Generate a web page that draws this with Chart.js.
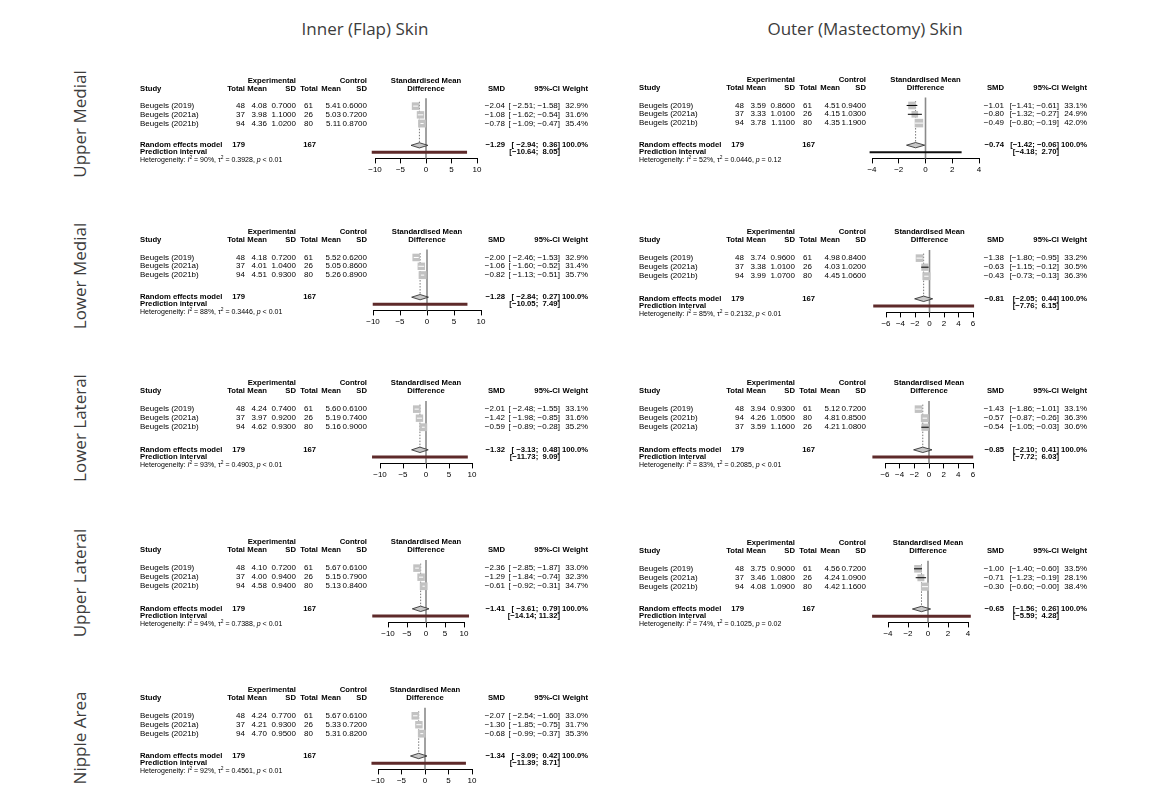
<!DOCTYPE html>
<html><head><meta charset="utf-8">
<script src="https://cdn.jsdelivr.net/npm/chart.js@4.4.0/dist/chart.umd.min.js"></script>
<style>
html,body{margin:0;padding:0;background:#fff;}
#wrap{position:relative;width:1172px;height:800px;overflow:hidden;background:#fff;}
.title{position:absolute;font-family:'Open Sans',sans-serif;font-size:17px;color:#3c3c3c;white-space:nowrap;transform:translate(-50%,-50%);}
.side{position:absolute;font-family:'Open Sans',sans-serif;font-size:17px;color:#3c3c3c;white-space:nowrap;transform:translate(-50%,-50%) rotate(-90deg);}
canvas{position:absolute;}
</style></head><body><div id="wrap"></div>
<script>
// ---------------- DATA ----------------
const skinTitles = ['Inner (Flap) Skin', 'Outer (Mastectomy) Skin'];
const regionLabels = ['Upper Medial', 'Lower Medial', 'Lower Lateral', 'Upper Lateral', 'Nipple Area'];

const studyNames = ['Beugels (2019)', 'Beugels (2021a)', 'Beugels (2021b)'];
const expTotal = [48, 37, 94];
const ctlTotal = [61, 26, 80];
const studyNamesOLL = ['Beugels (2019)', 'Beugels (2021b)', 'Beugels (2021a)'];
const expTotalOLL = [48, 94, 37];
const ctlTotalOLL = [61, 80, 26];
const pooledWeight = 100.0;

// Inner (Flap) Skin - Upper Medial
const iumExpMean = [4.08, 3.98, 4.36], iumExpSD = [0.70, 1.10, 1.02];
const iumCtlMean = [5.41, 5.03, 5.11], iumCtlSD = [0.60, 0.72, 0.87];
const iumSMD = [-2.04, -1.08, -0.78], iumLo = [-2.51, -1.62, -1.09], iumHi = [-1.58, -0.54, -0.47];
const iumWeight = [32.9, 31.6, 35.4];
const iumPooled = [-1.29, -2.94, 0.36], iumPredict = [-10.64, 8.05], iumHet = [90, 0.3928, '< 0.01'];

// Inner (Flap) Skin - Lower Medial
const ilmExpMean = [4.18, 4.01, 4.51], ilmExpSD = [0.72, 1.04, 0.93];
const ilmCtlMean = [5.52, 5.05, 5.26], ilmCtlSD = [0.62, 0.86, 0.89];
const ilmSMD = [-2.00, -1.06, -0.82], ilmLo = [-2.46, -1.60, -1.13], ilmHi = [-1.53, -0.52, -0.51];
const ilmWeight = [32.9, 31.4, 35.7];
const ilmPooled = [-1.28, -2.84, 0.27], ilmPredict = [-10.05, 7.49], ilmHet = [88, 0.3446, '< 0.01'];

// Inner (Flap) Skin - Lower Lateral
const illExpMean = [4.24, 3.97, 4.62], illExpSD = [0.74, 0.92, 0.93];
const illCtlMean = [5.60, 5.19, 5.16], illCtlSD = [0.61, 0.74, 0.90];
const illSMD = [-2.01, -1.42, -0.59], illLo = [-2.48, -1.98, -0.89], illHi = [-1.55, -0.85, -0.28];
const illWeight = [33.1, 31.6, 35.2];
const illPooled = [-1.32, -3.13, 0.48], illPredict = [-11.73, 9.09], illHet = [93, 0.4903, '< 0.01'];

// Inner (Flap) Skin - Upper Lateral
const iulExpMean = [4.10, 4.00, 4.58], iulExpSD = [0.72, 0.94, 0.94];
const iulCtlMean = [5.67, 5.15, 5.13], iulCtlSD = [0.61, 0.79, 0.84];
const iulSMD = [-2.36, -1.29, -0.61], iulLo = [-2.85, -1.84, -0.92], iulHi = [-1.87, -0.74, -0.31];
const iulWeight = [33.0, 32.3, 34.7];
const iulPooled = [-1.41, -3.61, 0.79], iulPredict = [-14.14, 11.32], iulHet = [94, 0.7388, '< 0.01'];

// Inner (Flap) Skin - Nipple Area
const inaExpMean = [4.24, 4.21, 4.70], inaExpSD = [0.77, 0.93, 0.95];
const inaCtlMean = [5.67, 5.33, 5.31], inaCtlSD = [0.61, 0.72, 0.82];
const inaSMD = [-2.07, -1.30, -0.68], inaLo = [-2.54, -1.85, -0.99], inaHi = [-1.60, -0.75, -0.37];
const inaWeight = [33.0, 31.7, 35.3];
const inaPooled = [-1.34, -3.09, 0.42], inaPredict = [-11.39, 8.71], inaHet = [92, 0.4561, '< 0.01'];

// Outer (Mastectomy) Skin - Upper Medial
const oumExpMean = [3.59, 3.33, 3.78], oumExpSD = [0.86, 1.01, 1.11];
const oumCtlMean = [4.51, 4.15, 4.35], oumCtlSD = [0.94, 1.03, 1.19];
const oumSMD = [-1.01, -0.80, -0.49], oumLo = [-1.41, -1.32, -0.80], oumHi = [-0.61, -0.27, -0.19];
const oumWeight = [33.1, 24.9, 42.0];
const oumPooled = [-0.74, -1.42, -0.06], oumPredict = [-4.18, 2.70], oumHet = [52, 0.0446, '= 0.12'];

// Outer (Mastectomy) Skin - Lower Medial
const olmExpMean = [3.74, 3.38, 3.99], olmExpSD = [0.96, 1.01, 1.07];
const olmCtlMean = [4.98, 4.03, 4.45], olmCtlSD = [0.84, 1.02, 1.06];
const olmSMD = [-1.38, -0.63, -0.43], olmLo = [-1.80, -1.15, -0.73], olmHi = [-0.95, -0.12, -0.13];
const olmWeight = [33.2, 30.5, 36.3];
const olmPooled = [-0.81, -2.05, 0.44], olmPredict = [-7.76, 6.15], olmHet = [85, 0.2132, '< 0.01'];

// Outer (Mastectomy) Skin - Lower Lateral
const ollExpMean = [3.94, 4.26, 3.59], ollExpSD = [0.93, 1.05, 1.16];
const ollCtlMean = [5.12, 4.81, 4.21], ollCtlSD = [0.72, 0.85, 1.08];
const ollSMD = [-1.43, -0.57, -0.54], ollLo = [-1.86, -0.87, -1.05], ollHi = [-1.01, -0.26, -0.03];
const ollWeight = [33.1, 36.3, 30.6];
const ollPooled = [-0.85, -2.10, 0.41], ollPredict = [-7.72, 6.03], ollHet = [83, 0.2085, '< 0.01'];

// Outer (Mastectomy) Skin - Upper Lateral
const oulExpMean = [3.75, 3.46, 4.08], oulExpSD = [0.90, 1.08, 1.09];
const oulCtlMean = [4.56, 4.24, 4.42], oulCtlSD = [0.72, 1.09, 1.16];
const oulSMD = [-1.00, -0.71, -0.30], oulLo = [-1.40, -1.23, -0.60], oulHi = [-0.60, -0.19, -0.004];
const oulWeight = [33.5, 28.1, 38.4];
const oulPooled = [-0.65, -1.56, 0.26], oulPredict = [-5.59, 4.28], oulHet = [74, 0.1025, '= 0.02'];

// x-axis tick ranges (min, max, step)
const innerTicks = [-10, 10, 5];
const oumTicks = [-4, 4, 2], olmTicks = [-6, 6, 2], ollTicks = [-6, 6, 2], oulTicks = [-4, 4, 2];

// ---------------- LAYOUT / STYLE ----------------
const FONT = '"Liberation Sans", Arial, Helvetica, sans-serif';
const F_REG = 8, F_BOLD = 7.7, F_HET = 7;
const COL = {study: 10, expN: 115, expMean: 137, expSD: 166, ctlN: 183, ctlNHead: 188, ctlNPool: 186, ctlMean: 211, ctlSD: 237, smd: 375, ci: 430, weight: 458};
const ROW = {h0: 0.1, h1: 1, studies: [3, 4, 5], re: 7.5, pi: 8.3, het: 9.2, zeroTop: 2.1, diaHalf: 0.3, axis: 9};
const PANEL_W = 470;

function mkData(names, eN, eM, eS, cN, cM, cS, smd, lo, hi, w, pooled, pred, het, ticks) {
  return {names, eN, eM, eS, cN, cM, cS, smd, lo, hi, w, pooled, pred, het, ticks};
}
const panels = [
  {geo: {left: 130, header: 80, axis: 158, px0: 375, px1: 477}, predColor: '#5e2a2a', predW: 3,
   d: mkData(studyNames, expTotal, iumExpMean, iumExpSD, ctlTotal, iumCtlMean, iumCtlSD, iumSMD, iumLo, iumHi, iumWeight, iumPooled, iumPredict, iumHet, innerTicks)},
  {geo: {left: 130, header: 231, axis: 310, px0: 373, px1: 481}, predColor: '#5e2a2a', predW: 3,
   d: mkData(studyNames, expTotal, ilmExpMean, ilmExpSD, ctlTotal, ilmCtlMean, ilmCtlSD, ilmSMD, ilmLo, ilmHi, ilmWeight, ilmPooled, ilmPredict, ilmHet, innerTicks)},
  {geo: {left: 130, header: 382, axis: 463, px0: 380, px1: 472}, predColor: '#5e2a2a', predW: 3,
   d: mkData(studyNames, expTotal, illExpMean, illExpSD, ctlTotal, illCtlMean, illCtlSD, illSMD, illLo, illHi, illWeight, illPooled, illPredict, illHet, innerTicks)},
  {geo: {left: 130, header: 541, axis: 622, px0: 388, px1: 464}, predColor: '#5e2a2a', predW: 3,
   d: mkData(studyNames, expTotal, iulExpMean, iulExpSD, ctlTotal, iulCtlMean, iulCtlSD, iulSMD, iulLo, iulHi, iulWeight, iulPooled, iulPredict, iulHet, innerTicks)},
  {geo: {left: 130, header: 689, axis: 769, px0: 378, px1: 472}, predColor: '#5e2a2a', predW: 3,
   d: mkData(studyNames, expTotal, inaExpMean, inaExpSD, ctlTotal, inaCtlMean, inaCtlSD, inaSMD, inaLo, inaHi, inaWeight, inaPooled, inaPredict, inaHet, innerTicks)},
  {geo: {left: 629, header: 79, axis: 158, px0: 872, px1: 979}, predColor: '#111111', predW: 2,
   d: mkData(studyNames, expTotal, oumExpMean, oumExpSD, ctlTotal, oumCtlMean, oumCtlSD, oumSMD, oumLo, oumHi, oumWeight, oumPooled, oumPredict, oumHet, oumTicks)},
  {geo: {left: 629, header: 231, axis: 312, px0: 886, px1: 973}, predColor: '#5e2a2a', predW: 3,
   d: mkData(studyNames, expTotal, olmExpMean, olmExpSD, ctlTotal, olmCtlMean, olmCtlSD, olmSMD, olmLo, olmHi, olmWeight, olmPooled, olmPredict, olmHet, olmTicks)},
  {geo: {left: 629, header: 382, axis: 463, px0: 885, px1: 973}, predColor: '#5e2a2a', predW: 3,
   d: mkData(studyNamesOLL, expTotalOLL, ollExpMean, ollExpSD, ctlTotalOLL, ollCtlMean, ollCtlSD, ollSMD, ollLo, ollHi, ollWeight, ollPooled, ollPredict, ollHet, ollTicks)},
  {geo: {left: 629, header: 542, axis: 622, px0: 888, px1: 968}, predColor: '#5e2a2a', predW: 3,
   d: mkData(studyNames, expTotal, oulExpMean, oulExpSD, ctlTotal, oulCtlMean, oulCtlSD, oulSMD, oulLo, oulHi, oulWeight, oulPooled, oulPredict, oulHet, oulTicks)}
];

// ---------------- HELPERS ----------------
const MINUS = '\u2212';
const fnum = (v, dp) => (v < 0 ? MINUS : '') + Math.abs(v).toFixed(dp);
const sideFor = w => 7.8 * Math.sqrt(w / 35);

const wrap = document.getElementById('wrap');
skinTitles.forEach((t, i) => {
  const el = document.createElement('div'); el.className = 'title'; el.textContent = t;
  el.style.left = (i === 0 ? 365 : 865) + 'px'; el.style.top = '28px'; wrap.appendChild(el);
});
const sideY = [124, 276, 428, 583, 738];
regionLabels.forEach((t, i) => {
  const el = document.createElement('div'); el.className = 'side'; el.textContent = t;
  el.style.left = '79px'; el.style.top = sideY[i] + 'px'; wrap.appendChild(el);
});

function richText(ctx, x, y, parts, size) {
  let cx = x;
  parts.forEach(p => {
    let f = size, dy = 0, st = '';
    if (p.s === 'i') st = 'italic ';
    if (p.s === 'sup') { f = size * 0.7; dy = -size * 0.35; }
    ctx.font = st + f + 'px ' + FONT;
    ctx.fillText(p.t, cx, y + dy);
    cx += ctx.measureText(p.t).width;
  });
}

function makePlugin(panel) {
  const d = panel.d;
  return {
    id: 'forestText',
    afterDatasetsDraw(chart) {
      const ctx = chart.ctx, xs = chart.scales.x, ys = chart.scales.y;
      // diamond (random effects)
      const yc = ys.getPixelForValue(ROW.re);
      const hh = Math.abs(ys.getPixelForValue(ROW.re + ROW.diaHalf) - yc);
      ctx.save();
      ctx.beginPath();
      ctx.moveTo(xs.getPixelForValue(d.pooled[1]), yc);
      ctx.lineTo(xs.getPixelForValue(d.pooled[0]), yc - hh);
      ctx.lineTo(xs.getPixelForValue(d.pooled[2]), yc);
      ctx.lineTo(xs.getPixelForValue(d.pooled[0]), yc + hh);
      ctx.closePath();
      ctx.fillStyle = '#c8c8c8'; ctx.fill();
      ctx.lineWidth = 0.8; ctx.strokeStyle = '#222'; ctx.stroke();
      ctx.restore();
    },
    afterDraw(chart) {
      const ctx = chart.ctx, ys = chart.scales.y, ca = chart.chartArea;
      const Y = r => ys.getPixelForValue(r);
      const mid = (ca.left + ca.right) / 2;
      ctx.save();
      ctx.fillStyle = '#000'; ctx.textBaseline = 'middle';
      const reg = F_REG + 'px ' + FONT, bold = 'bold ' + F_BOLD + 'px ' + FONT;
      const txt = (t, x, y, align, font) => { ctx.font = font; ctx.textAlign = align; ctx.fillText(t, x, y); };
      // headers
      txt('Experimental', COL.expSD, Y(ROW.h0), 'right', bold);
      txt('Control', COL.ctlSD, Y(ROW.h0), 'right', bold);
      txt('Standardised Mean', mid, Y(ROW.h0), 'center', bold);
      txt('Study', COL.study, Y(ROW.h1), 'left', bold);
      txt('Total', COL.expN, Y(ROW.h1), 'right', bold);
      txt('Mean', COL.expMean, Y(ROW.h1), 'right', bold);
      txt('SD', COL.expSD, Y(ROW.h1), 'right', bold);
      txt('Total', COL.ctlNHead, Y(ROW.h1), 'right', bold);
      txt('Mean', COL.ctlMean, Y(ROW.h1), 'right', bold);
      txt('SD', COL.ctlSD, Y(ROW.h1), 'right', bold);
      txt('Difference', mid, Y(ROW.h1), 'center', bold);
      txt('SMD', COL.smd, Y(ROW.h1), 'right', bold);
      txt('95%-CI', COL.ci, Y(ROW.h1), 'right', bold);
      txt('Weight', COL.weight, Y(ROW.h1), 'right', bold);
      // CI strings padded like R output
      const loS = d.lo.map(v => fnum(v, 2)).concat([fnum(d.pooled[1], 2), fnum(d.pred[0], 2)]);
      const hiS = d.hi.map(v => fnum(v, 2)).concat([fnum(d.pooled[2], 2), fnum(d.pred[1], 2)]);
      const lw = Math.max(...loS.map(s => s.length)), hw = Math.max(...hiS.map(s => s.length));
      const ciStr = i => '[' + loS[i].padStart(lw, ' ') + '; ' + hiS[i].padStart(hw, ' ') + ']';
      // study rows
      d.names.forEach((n, i) => {
        const y = Y(ROW.studies[i]);
        txt(n, COL.study, y, 'left', reg);
        txt(String(d.eN[i]), COL.expN, y, 'right', reg);
        txt(d.eM[i].toFixed(2), COL.expMean, y, 'right', reg);
        txt(d.eS[i].toFixed(4), COL.expSD, y, 'right', reg);
        txt(String(d.cN[i]), COL.ctlN, y, 'right', reg);
        txt(d.cM[i].toFixed(2), COL.ctlMean, y, 'right', reg);
        txt(d.cS[i].toFixed(4), COL.ctlSD, y, 'right', reg);
        txt(fnum(d.smd[i], 2), COL.smd, y, 'right', reg);
        txt(ciStr(i), COL.ci, y, 'right', reg);
        txt(d.w[i].toFixed(1) + '%', COL.weight, y, 'right', reg);
      });
      // random effects row
      const yr = Y(ROW.re);
      const sum = a => a.reduce((s, v) => s + v, 0);
      txt('Random effects model', COL.study, yr, 'left', bold);
      txt(String(sum(d.eN)), COL.expN, yr, 'right', bold);
      txt(String(sum(d.cN)), COL.ctlNPool, yr, 'right', bold);
      txt(fnum(d.pooled[0], 2), COL.smd, yr, 'right', bold);
      txt(ciStr(3), COL.ci, yr, 'right', bold);
      txt(pooledWeight.toFixed(1) + '%', COL.weight, yr, 'right', bold);
      // prediction row
      const yp = Y(ROW.pi);
      txt('Prediction interval', COL.study, yp, 'left', bold);
      txt(ciStr(4), COL.ci, yp, 'right', bold);
      // heterogeneity
      ctx.textAlign = 'left';
      richText(ctx, COL.study, Y(ROW.het), [
        {t: 'Heterogeneity: ', s: 'n'}, {t: 'I', s: 'i'}, {t: '2', s: 'sup'},
        {t: ' = ' + d.het[0] + '%, \u03C4', s: 'n'}, {t: '2', s: 'sup'},
        {t: ' = ' + d.het[1].toFixed(4) + ', ', s: 'n'}, {t: 'p', s: 'i'}, {t: ' ' + d.het[2], s: 'n'}
      ], F_HET);
      ctx.restore();
    }
  };
}

// ---------------- CHARTS ----------------
Chart.defaults.font.family = FONT;
Chart.defaults.color = '#000';

panels.forEach(panel => {
  const g = panel.geo, d = panel.d;
  const top = g.header - 12;
  const H = (g.axis - g.header) + 12 + 21;
  const cv = document.createElement('canvas');
  cv.width = PANEL_W; cv.height = H;
  cv.style.left = g.left + 'px'; cv.style.top = top + 'px';
  cv.style.width = PANEL_W + 'px'; cv.style.height = H + 'px';
  wrap.appendChild(cv);

  const line = (pts, opts) => Object.assign({type: 'scatter', data: pts, showLine: true, pointRadius: 0, borderWidth: 1, clip: false, tension: 0}, opts);
  const datasets = [];
  // reference (zero) line
  datasets.push(line([{x: 0, y: ROW.zeroTop}, {x: 0, y: ROW.axis}], {borderColor: '#8a8a8a', borderWidth: 1.6, order: 10}));
  // random effects dotted line
  datasets.push(line([{x: d.pooled[0], y: 2.5}, {x: d.pooled[0], y: ROW.re - ROW.diaHalf}], {borderColor: '#777', borderDash: [1.5, 1.5], order: 9}));
  // study squares
  datasets.push({type: 'scatter', data: d.smd.map((v, i) => ({x: v, y: ROW.studies[i]})), pointStyle: 'rect',
    pointRadius: d.w.map(w => sideFor(w) / Math.SQRT2), backgroundColor: '#c2c2c2', borderColor: '#c2c2c2', borderWidth: 0, clip: false, order: 5});
  // study CIs (white when inside the square, black otherwise)
  d.smd.forEach((v, i) => {
    const side = sideFor(d.w[i]);
    datasets.push(line([{x: d.lo[i], y: ROW.studies[i]}, {x: d.hi[i], y: ROW.studies[i]}], {
      order: 4,
      borderColor: ctx => {
        const xs = ctx.chart.scales.x;
        if (!xs) return '#000';
        const wpx = xs.getPixelForValue(d.hi[i]) - xs.getPixelForValue(d.lo[i]);
        return wpx <= side ? '#ffffff' : '#000000';
      }
    }));
  });
  // prediction interval
  datasets.push(line([{x: d.pred[0], y: ROW.pi}, {x: d.pred[1], y: ROW.pi}], {borderColor: panel.predColor, borderWidth: panel.predW, borderCapStyle: 'butt', order: 2}));

  new Chart(cv, {
    type: 'scatter',
    data: {datasets},
    options: {
      responsive: false, animation: false, events: [],
      layout: {padding: {left: g.px0 - g.left, right: g.left + PANEL_W - g.px1, top: 12, bottom: 2}},
      plugins: {legend: {display: false}, tooltip: {enabled: false}},
      scales: {
        x: {type: 'linear', min: d.ticks[0], max: d.ticks[1],
          ticks: {stepSize: d.ticks[2], autoSkip: false, maxRotation: 0, padding: 2, color: '#000',
            font: {size: F_REG, family: FONT}, callback: v => (v < 0 ? MINUS + Math.abs(v) : String(v))},
          grid: {display: true, drawOnChartArea: false, drawTicks: true, tickLength: 5, color: '#000', lineWidth: 1},
          border: {display: true, color: '#000', width: 1}},
        y: {type: 'linear', display: false, min: 0, max: ROW.axis, reverse: true}
      }
    },
    plugins: [makePlugin(panel)]
  });
});
</script>
</body></html>
